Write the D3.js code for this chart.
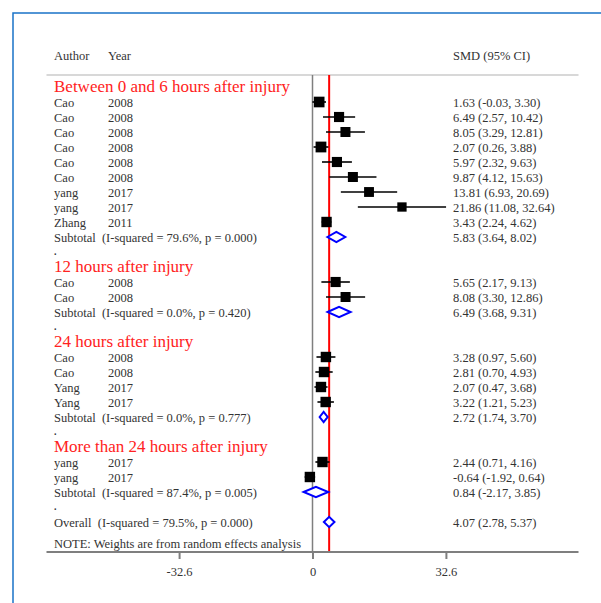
<!DOCTYPE html>
<html><head><meta charset="utf-8">
<script src="https://cdn.jsdelivr.net/npm/d3@7"></script>
<style>body{margin:0;background:#fff;} svg{display:block;} text{white-space:pre;}</style>
</head><body>
<svg id="chart" width="601" height="603"></svg>
<script>
// ---------- data ----------
const groupTitles = ["Between 0 and 6 hours after injury", "12 hours after injury", "24 hours after injury", "More than 24 hours after injury"];
const studyGroup  = [0,0,0,0,0,0,0,0,0, 1,1, 2,2,2,2, 3,3];
const studyAuthor = ["Cao","Cao","Cao","Cao","Cao","Cao","yang","yang","Zhang", "Cao","Cao", "Cao","Cao","Yang","Yang", "yang","yang"];
const studyYear   = ["2008","2008","2008","2008","2008","2008","2017","2017","2011", "2008","2008", "2008","2008","2017","2017", "2017","2017"];
const studySMD    = [1.63, 6.49, 8.05, 2.07, 5.97, 9.87, 13.81, 21.86, 3.43, 5.65, 8.08, 3.28, 2.81, 2.07, 3.22, 2.44, -0.64];
const studyLow    = [-0.03, 2.57, 3.29, 0.26, 2.32, 4.12, 6.93, 11.08, 2.24, 2.17, 3.30, 0.97, 0.70, 0.47, 1.21, 0.71, -1.92];
const studyHigh   = [3.30, 10.42, 12.81, 3.88, 9.63, 15.63, 20.69, 32.64, 4.62, 9.13, 12.86, 5.60, 4.93, 3.68, 5.23, 4.16, 0.64];
const studyWeight = [4.2, 3.8, 3.7, 4.3, 3.8, 3.7, 3.6, 3.2, 4.0, 3.8, 3.7, 4.0, 4.0, 4.0, 4.0, 4.0, 4.0];
const subtotalLabel = ["Subtotal  (I-squared = 79.6%, p = 0.000)", "Subtotal  (I-squared = 0.0%, p = 0.420)", "Subtotal  (I-squared = 0.0%, p = 0.777)", "Subtotal  (I-squared = 87.4%, p = 0.005)"];
const subtotalSMD  = [5.83, 6.49, 2.72, 0.84];
const subtotalLow  = [3.64, 3.68, 1.74, -2.17];
const subtotalHigh = [8.02, 9.31, 3.70, 3.85];
const overallLabel = "Overall  (I-squared = 79.5%, p = 0.000)";
const overallSMD = 4.07, overallLow = 2.78, overallHigh = 5.37;
const tickValues = [-32.6, 0, 32.6];
const tickLabels = ["-32.6", "0", "32.6"];
const noteText = "NOTE: Weights are from random effects analysis";
const headerAuthor = "Author", headerYear = "Year", headerSMD = "SMD (95% CI)";

// ---------- build rows ----------
const rows = [];
groupTitles.forEach((g, gi) => {
  rows.push({type: "group", label: g});
  studyAuthor.forEach((a, i) => {
    if (studyGroup[i] === gi) rows.push({type: "study", author: a, year: studyYear[i], est: studySMD[i], lo: studyLow[i], hi: studyHigh[i], w: studyWeight[i]});
  });
  rows.push({type: "subtotal", label: subtotalLabel[gi], est: subtotalSMD[gi], lo: subtotalLow[gi], hi: subtotalHigh[gi]});
  rows.push({type: "dot"});
});
rows.push({type: "overall", label: overallLabel, est: overallSMD, lo: overallLow, hi: overallHigh});

const fmt = d3.formatLocale({decimal: ".", thousands: ",", grouping: [3], currency: ["", ""], minus: "-"}).format(".2f");
const ciText = r => `${fmt(r.est)} (${fmt(r.lo)}, ${fmt(r.hi)})`;

// ---------- scales ----------
const svg = d3.select("#chart");
const x = d3.scaleLinear().domain([-65, 65]).range([46.5, 578.5]);
const y = d3.scaleLinear().domain([0, 1]).range([87, 102]);
const box = d3.scaleSqrt().domain([0, 4]).range([0, 10.4]);
const textColor = "#333333";
const font = "'Liberation Serif', 'Times New Roman', serif";

// frame
svg.append("path").attr("d", "M13,603 L13,13 L601,13").attr("fill", "none").attr("stroke", "#1a73c8").attr("stroke-width", 1.5);

// header
const hdr = svg.append("g").attr("font-family", font).attr("font-size", 12.5).attr("fill", textColor);
hdr.append("text").attr("x", 54).attr("y", 60).text(headerAuthor);
hdr.append("text").attr("x", 108).attr("y", 60).text(headerYear);
hdr.append("text").attr("x", 453).attr("y", 60).text(headerSMD);
svg.append("line").attr("x1", x.range()[0]).attr("x2", x.range()[1]).attr("y1", 75).attr("y2", 75).attr("stroke", "#d8d8d8").attr("stroke-width", 2);

const axisY = 552;
// zero line and overall line
svg.append("line").attr("x1", x(0)).attr("x2", x(0)).attr("y1", 75).attr("y2", axisY).attr("stroke", "#7f7f7f").attr("stroke-width", 1.5);
svg.append("line").attr("x1", x(overallSMD)).attr("x2", x(overallSMD)).attr("y1", 75).attr("y2", axisY).attr("stroke", "#ff0000").attr("stroke-width", 2);

// rows
const g = svg.append("g").attr("font-family", font).attr("font-size", 12.5).attr("fill", textColor);
rows.forEach((r, i) => {
  const cy = y(i);
  if (r.type === "group") {
    g.append("text").attr("x", 54).attr("y", cy + 4.6).attr("font-size", 17).attr("fill", "#ff2222").text(r.label);
  } else if (r.type === "dot") {
    g.append("text").attr("x", 54).attr("y", cy + 2.5).attr("font-size", 10).attr("font-weight", "bold").text(".");
  } else if (r.type === "study") {
    g.append("text").attr("x", 54).attr("y", cy + 4.5).text(r.author);
    g.append("text").attr("x", 108).attr("y", cy + 4.5).text(r.year);
    g.append("text").attr("x", 453).attr("y", cy + 4.5).text(ciText(r));
    g.append("line").attr("x1", x(r.lo)).attr("x2", x(r.hi)).attr("y1", cy).attr("y2", cy).attr("stroke", "#000").attr("stroke-width", 1.6);
    const s = box(r.w);
    g.append("rect").attr("x", x(r.est) - s / 2).attr("y", cy - s / 2).attr("width", s).attr("height", s).attr("fill", "#000");
  } else {
    g.append("text").attr("x", 54).attr("y", cy + 4.5).text(r.label);
    g.append("text").attr("x", 453).attr("y", cy + 4.5).text(ciText(r));
    const h = 5.2;
    const d = `M${x(r.lo)},${cy} L${x(r.est)},${cy - h} L${x(r.hi)},${cy} L${x(r.est)},${cy + h} Z`;
    g.append("path").attr("d", d).attr("fill", "#fff").attr("stroke", "#0000ff").attr("stroke-width", 2);
  }
});

// note
g.append("text").attr("x", 54).attr("y", 548).text(noteText);

// axis
const axis = d3.axisBottom(x).tickValues(tickValues).tickFormat((d, i) => tickLabels[i]).tickSize(7).tickPadding(8);
const ax = svg.append("g").attr("transform", `translate(0,${axisY})`).call(axis);
ax.select(".domain").attr("stroke", "#7f7f7f").attr("stroke-width", 2).attr("d", `M${x.range()[0]},0H${x.range()[1]}`);
ax.selectAll(".tick line").attr("stroke", "#7f7f7f").attr("stroke-width", 2);
ax.selectAll(".tick text").attr("font-family", font).attr("font-size", 12.5).attr("fill", textColor);
</script>
</body></html>
